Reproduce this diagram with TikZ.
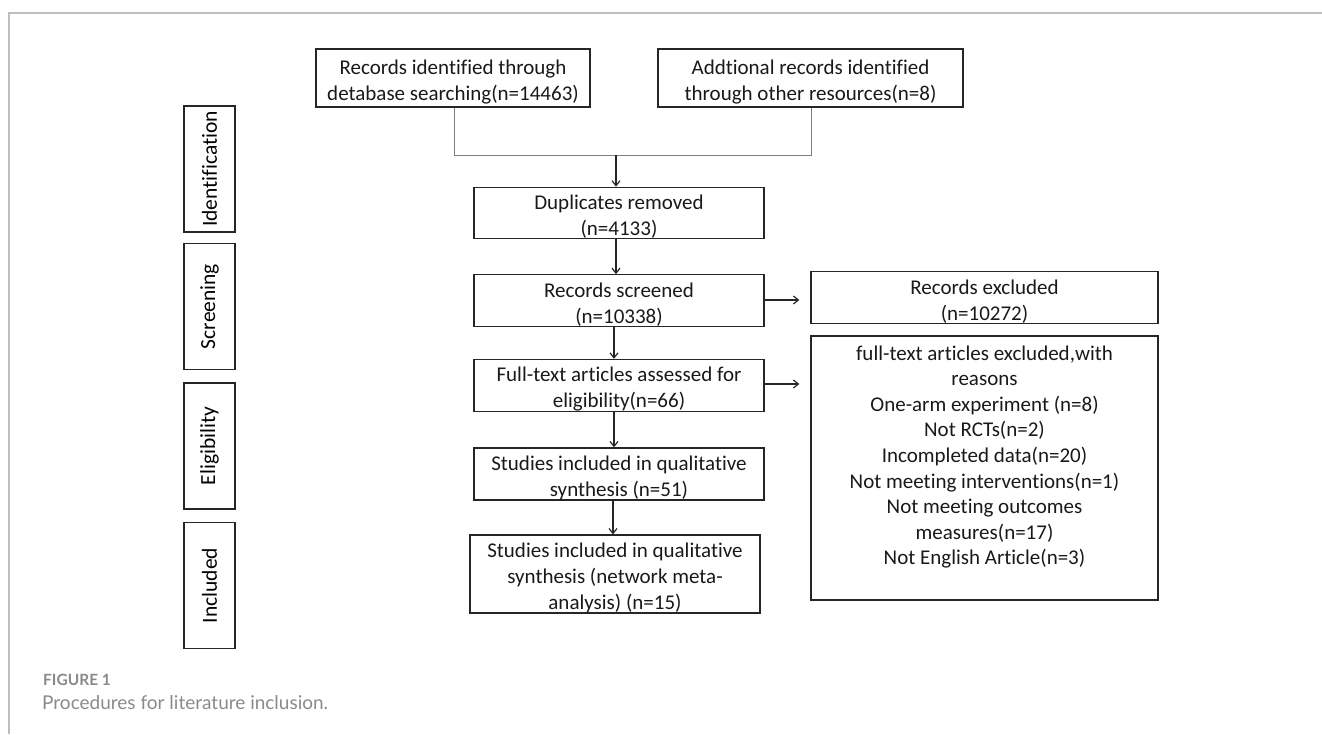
\documentclass[tikz,border=0pt]{standalone}
\usepackage{fontspec}
\setmainfont[Ligatures={NoCommon}]{Carlito}
\newfontfamily\capfont{Lato}
\usetikzlibrary{arrows.meta}
\definecolor{framegray}{HTML}{BDBDBD}
\definecolor{capgray}{HTML}{8A8A8A}
\definecolor{linkgray}{HTML}{7F7F7F}
\newcommand\topstrut{\rule{0pt}{22.5pt}}
\begin{document}
\begin{tikzpicture}[x=1pt,y=-1pt,
  box/.style={draw=black!85, line width=1.3pt, inner sep=0pt, align=center,
    font=\fontsize{21}{26}\selectfont, text=black!90},
  side/.style={draw=black!85, line width=1.3pt, inner sep=0pt, align=center,
    minimum width=51pt, minimum height=126pt,
    font=\fontsize{21.5}{24}\selectfont},
  link/.style={draw=linkgray, line width=0.9pt},
  arr/.style={draw=black!85, line width=1.2pt, -{Straight Barb[length=5pt,width=8pt]}}]
\useasboundingbox (0,0) rectangle (1322,734);
\draw[framegray, line width=2pt] (8,13) -- (1322,13);
\draw[framegray, line width=2pt] (9,13) -- (9,734);

% side labels
\node[side] (id) at (209.5,169) {\rotatebox{90}{Identification}};
\node[side] (sc) at (209.5,306.5) {\rotatebox{90}{Screening}};
\node[side] (el) at (209.5,446) {\rotatebox{90}{Eligibility}};
\node[side] (in) at (209.5,585.5) {\rotatebox{90}{Included}};

% main boxes
\node[box, minimum width=274pt, minimum height=58pt] (A) at (453,78)
  {\topstrut Records identified through\\detabase searching(n=14463)};
\node[box, minimum width=305pt, minimum height=58pt] (B) at (810.5,78)
  {\topstrut Addtional records identified\\through other resources(n=8)};
\node[box, minimum width=290pt, minimum height=50pt] (dup) at (619,213)
  {\topstrut Duplicates removed\\(n=4133)};
\node[box, minimum width=290pt, minimum height=51pt] (scr) at (619,300.5)
  {\topstrut Records screened\\(n=10338)};
\node[box, minimum width=290pt, minimum height=47pt] (ft) at (619,385.5)
  {\topstrut Full-text articles assessed for\\eligibility(n=66)};
\node[box, minimum width=290pt, minimum height=52pt] (q) at (619,474)
  {\topstrut Studies included in qualitative\\synthesis (n=51)};
\node[box, minimum width=290pt, minimum height=74pt] (nma) at (615,574)
  {\topstrut Studies included in qualitative\\synthesis (network meta-\\analysis) (n=15)};
\node[box, minimum width=347pt, minimum height=47pt] (re) at (984.5,297.5)
  {\topstrut Records excluded\\(n=10272)};
\node[box, minimum width=347pt, minimum height=264pt,
  font=\fontsize{21}{25.6}\selectfont] (fe) at (984.5,468)
  {full-text articles excluded,with\\reasons\\One-arm experiment (n=8)\\Not RCTs(n=2)\\
   Incompleted data(n=20)\\Not meeting interventions(n=1)\\Not meeting outcomes\\
   measures(n=17)\\Not English Article(n=3)\\\mbox{}};

% merge lines
\coordinate (ja) at (454,155);
\coordinate (jb) at (811,155);
\coordinate (jm) at (616,155);
\draw[link] (A.south -| ja) -- (ja) -- (jb) -- (B.south -| jb);
\draw[arr] (jm) -- (dup.north -| jm);

% vertical arrows
\draw[arr] (dup.south -| 616,0) -- (scr.north -| 616,0);
\draw[arr] (scr.south -| 614,0) -- (ft.north -| 614,0);
\draw[arr] (ft.south -| 614,0) -- (q.north -| 614,0);
\draw[arr] (q.south -| 613,0) -- (nma.north -| 613,0);

% side arrows
\draw[arr, shorten >=11pt] (scr.east |- 0,300) -- (re.west |- 0,300);
\draw[arr, shorten >=11pt] (ft.east |- 0,384) -- (fe.west |- 0,384);

% caption
\node[anchor=base west, inner sep=0pt, text=capgray, font=\capfont\bfseries\fontsize{15.5}{18}\selectfont] (figlab) at (43,685) {FIGURE 1};
\node[anchor=base west, inner sep=0pt, text=capgray, font=\capfont\fontsize{19}{22}\selectfont] (cap) at (42,709) {Procedures for literature inclusion.};
\end{tikzpicture}
\end{document}
